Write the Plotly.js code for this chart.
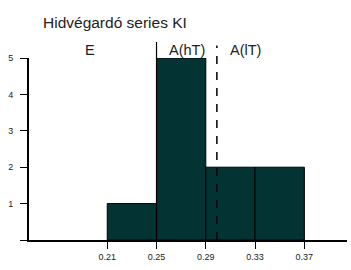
<!DOCTYPE html>
<html>
<head>
<meta charset="utf-8">
<script src="https://cdn.plot.ly/plotly-3.0.1.min.js"></script>
<style>html,body{margin:0;padding:0;background:#fff}#chart{width:351px;height:270px}</style>
</head>
<body>
<div id="chart"></div>
<script>
var binStarts = [0.21, 0.25, 0.29, 0.33];
var binWidth = 0.04;
var counts = [1, 5, 2, 2];
var xTickVals = [0.21, 0.25, 0.29, 0.33, 0.37];
var xTickText = ["0.21", "0.25", "0.29", "0.33", "0.37"];
var yTickVals = [0, 1, 2, 3, 4, 5];
var yTickText = ["", "1", "2", "3", "4", "5"];
var solidLineX = 0.25;
var dashedLineX = 0.299;
var regionLabels = ["E", "A(hT)", "A(lT)"];
var regionLabelX = [0.196, 0.2746, 0.322];

var centers = binStarts.map(function(s){ return s + binWidth/2; });

var trace = {
  type: 'bar',
  x: centers,
  y: counts,
  width: binStarts.map(function(){ return binWidth; }),
  marker: {color: '#033333', line: {color: '#000', width: 1}},
  hoverinfo: 'none'
};

var fam = 'Liberation Sans, Arial, sans-serif';

var layout = {
  width: 351, height: 270,
  margin: {l: 29, r: 4, t: 58, b: 30},
  paper_bgcolor: '#fff', plot_bgcolor: '#fff',
  showlegend: false,
  title: {text: 'Hidvégardó series KI', x: 43/351, xanchor: 'left', xref: 'container', y: 1 - 23/270, yanchor: 'middle', yref: 'container',
          font: {family: fam, size: 15.5, color: '#222'}},
  xaxis: {
    range: [0.1465, 0.4046], tickvals: xTickVals, ticktext: xTickText,
    showgrid: false, zeroline: false, showline: true, linecolor: '#000', linewidth: 2,
    ticks: 'outside', ticklen: 7, tickwidth: 1, tickcolor: '#000',
    tickfont: {family: fam, size: 9, color: '#222'}
  },
  yaxis: {
    range: [0, 5], tickvals: yTickVals, ticktext: yTickText,
    showgrid: false, zeroline: false, showline: true, linecolor: '#000', linewidth: 2,
    ticks: 'outside', ticklen: 7, tickwidth: 1, tickcolor: '#000', ticklabelstandoff: 5,
    tickfont: {family: fam, size: 9, color: '#222'}
  },
  shapes: [
    {type: 'line', xref: 'x', yref: 'paper', x0: solidLineX, x1: solidLineX, y0: 0, y1: 1.088,
     line: {color: '#000', width: 1.2}, layer: 'above'},
    {type: 'line', xref: 'x', yref: 'paper', x0: dashedLineX, x1: dashedLineX, y0: 0, y1: 1.068,
     line: {color: '#000', width: 1.5, dash: '8px,8px'}, layer: 'above'}
  ],
  annotations: regionLabels.map(function(t, i){
    return {text: t, x: regionLabelX[i], xref: 'x', y: 1.046, yref: 'paper', showarrow: false,
            xanchor: 'center', yanchor: 'middle', font: {family: fam, size: 14.5, color: '#222'}};
  })
};

Plotly.newPlot('chart', [trace], layout, {staticPlot: true, displayModeBar: false});
</script>
</body>
</html>
